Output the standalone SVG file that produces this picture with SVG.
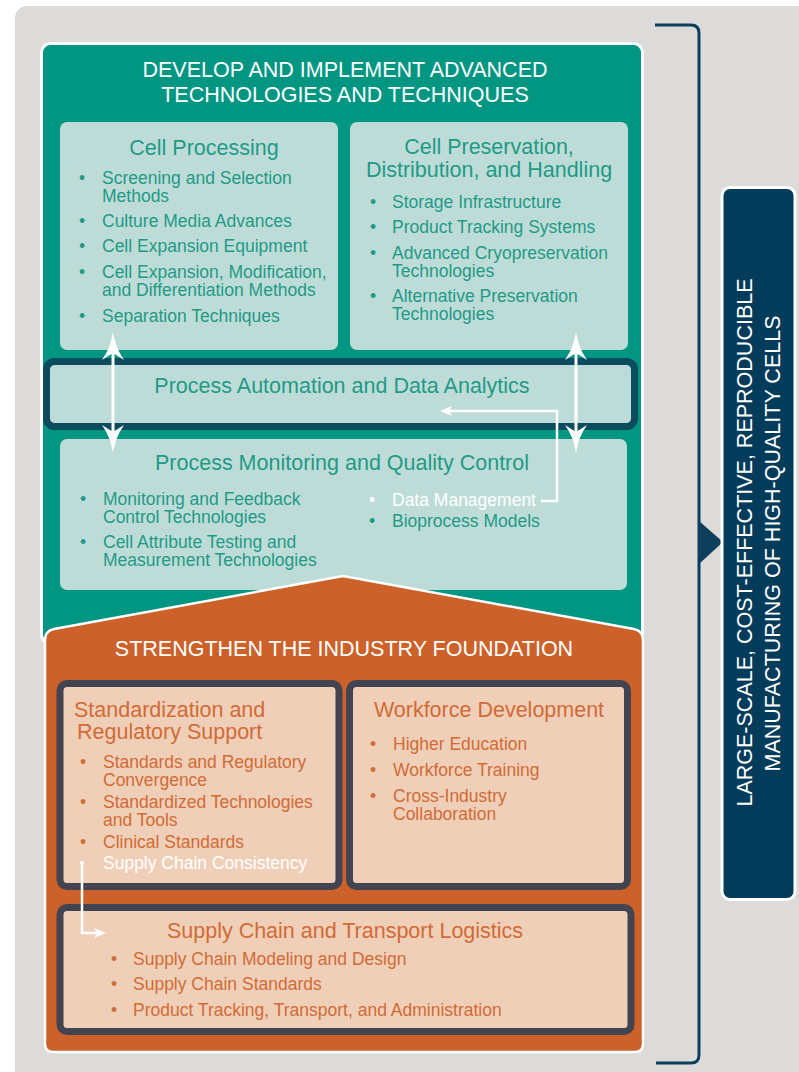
<svg xmlns="http://www.w3.org/2000/svg" width="799" height="1072" viewBox="0 0 799 1072">
<style>
text{font-family:"Liberation Sans",Arial,sans-serif}
.hd{fill:#fff;font-size:21.5px;text-anchor:middle}
.ct{fill:#1e9a87;font-size:21.5px}
.bt{fill:#1e9a87;font-size:17.5px}
.ot{fill:#d06b36;font-size:21.5px}
.ob{fill:#d06b36;font-size:17.5px}
.w{fill:#fff}
.mid{text-anchor:middle}
.lc{fill:#bedcd7}
.pc{fill:#f0cfb8;stroke:#424452;stroke-width:7}
.cn{fill:none;stroke:#fff}
</style>
<defs>
<marker id="ah" viewBox="0 0 28 22" refX="22" refY="11" markerWidth="28" markerHeight="22" markerUnits="userSpaceOnUse" orient="auto-start-reverse">
<path d="M0,0 Q13,9 28,11 Q13,13 0,22 L7,11 Z" fill="#fff"/>
</marker>
<marker id="sa" viewBox="0 0 12 10" refX="9" refY="5" markerWidth="12" markerHeight="10" markerUnits="userSpaceOnUse" orient="auto">
<path d="M0,0 L12,5 L0,10 L3,5 Z" fill="#fff"/>
</marker>
</defs>
<rect x="15" y="6" width="800" height="1080" rx="12" fill="#dcdbd9"/>

<g id="bracket">
<path d="M655,25 H691 Q699,25 699,33 V1055 Q699,1063 691,1063 H656" fill="none" stroke="#0d3f5c" stroke-width="3"/>
<polygon points="699,521 723,542 699,564" fill="#0d3f5c"/>
</g>

<g id="outcome">
<rect x="722" y="187.5" width="73" height="712" rx="8" fill="#033c5a" stroke="#fff" stroke-width="3"/>
<text class="hd" transform="translate(752,542.5) rotate(-90)">LARGE-SCALE, COST-EFFECTIVE, REPRODUCIBLE</text>
<text class="hd" transform="translate(780,543.5) rotate(-90)">MANUFACTURING OF HIGH-QUALITY CELLS</text>
</g>

<g id="develop">
<rect x="41.5" y="43.5" width="601" height="600" rx="9" fill="#009681" stroke="#fff" stroke-width="3"/>
<text class="hd" x="345" y="77">DEVELOP AND IMPLEMENT ADVANCED</text>
<text class="hd" x="345" y="102">TECHNOLOGIES AND TECHNIQUES</text>
</g>

<g id="cell-processing">
<rect class="lc" x="60" y="122" width="278" height="228" rx="7"/>
<text class="ct mid" x="204" y="155">Cell Processing</text>
<text class="bt" x="79" y="184">•</text>
<text class="bt" x="102" y="184">Screening and Selection</text>
<text class="bt" x="102" y="202">Methods</text>
<text class="bt" x="79" y="227">•</text>
<text class="bt" x="102" y="227">Culture Media Advances</text>
<text class="bt" x="79" y="252">•</text>
<text class="bt" x="102" y="252">Cell Expansion Equipment</text>
<text class="bt" x="79" y="278">•</text>
<text class="bt" x="102" y="278">Cell Expansion, Modification,</text>
<text class="bt" x="102" y="296">and Differentiation Methods</text>
<text class="bt" x="79" y="322">•</text>
<text class="bt" x="102" y="322">Separation Techniques</text>
</g>

<g id="cell-preservation">
<rect class="lc" x="350" y="122" width="278" height="228" rx="7"/>
<text class="ct mid" x="489" y="154">Cell Preservation,</text>
<text class="ct mid" x="489" y="177">Distribution, and Handling</text>
<text class="bt" x="370" y="208">•</text>
<text class="bt" x="392" y="208">Storage Infrastructure</text>
<text class="bt" x="370" y="233">•</text>
<text class="bt" x="392" y="233">Product Tracking Systems</text>
<text class="bt" x="370" y="259">•</text>
<text class="bt" x="392" y="259">Advanced Cryopreservation</text>
<text class="bt" x="392" y="277">Technologies</text>
<text class="bt" x="370" y="302">•</text>
<text class="bt" x="392" y="302">Alternative Preservation</text>
<text class="bt" x="392" y="320">Technologies</text>
</g>

<g id="automation">
<rect x="46.5" y="361.5" width="588" height="65" rx="8" fill="#bedcd7" stroke="#0d4b5f" stroke-width="7"/>
<text class="ct mid" x="342" y="393">Process Automation and Data Analytics</text>
</g>

<g id="monitoring">
<rect class="lc" x="60" y="439" width="567" height="151" rx="7"/>
<text class="ct mid" x="342" y="470">Process Monitoring and Quality Control</text>
<text class="bt" x="80" y="505">•</text>
<text class="bt" x="103" y="505">Monitoring and Feedback</text>
<text class="bt" x="103" y="523">Control Technologies</text>
<text class="bt" x="80" y="548">•</text>
<text class="bt" x="103" y="548">Cell Attribute Testing and</text>
<text class="bt" x="103" y="566">Measurement Technologies</text>
<text class="bt w" x="369" y="506">•</text>
<text class="bt w" x="392" y="506">Data Management</text>
<text class="bt" x="369" y="527">•</text>
<text class="bt" x="392" y="527">Bioprocess Models</text>
</g>

<g id="foundation">
<path d="M45,640 Q45,631 54,629 L343,576 L634,629 Q643,631 643,640 V1044 Q643,1052 635,1052 H53 Q45,1052 45,1044 Z" fill="#cc612a" stroke="#fff" stroke-width="2.5"/>
<text class="hd" x="344" y="656">STRENGTHEN THE INDUSTRY FOUNDATION</text>
</g>

<g id="standardization">
<rect class="pc" x="60" y="683.5" width="279" height="203" rx="7"/>
<text class="ot" x="74" y="717">Standardization and</text>
<text class="ot" x="77" y="739">Regulatory Support</text>
<text class="ob" x="80" y="768">•</text>
<text class="ob" x="103" y="768">Standards and Regulatory</text>
<text class="ob" x="103" y="786">Convergence</text>
<text class="ob" x="80" y="808">•</text>
<text class="ob" x="103" y="808">Standardized Technologies</text>
<text class="ob" x="103" y="826">and Tools</text>
<text class="ob" x="80" y="848">•</text>
<text class="ob" x="103" y="848">Clinical Standards</text>
<text class="ob w" x="103" y="869">Supply Chain Consistency</text>
</g>

<g id="workforce">
<rect class="pc" x="349.5" y="683.5" width="278" height="203" rx="7"/>
<text class="ot mid" x="489" y="717">Workforce Development</text>
<text class="ob" x="370" y="750">•</text>
<text class="ob" x="393" y="750">Higher Education</text>
<text class="ob" x="370" y="776">•</text>
<text class="ob" x="393" y="776">Workforce Training</text>
<text class="ob" x="370" y="802">•</text>
<text class="ob" x="393" y="802">Cross-Industry</text>
<text class="ob" x="393" y="820">Collaboration</text>
</g>

<g id="supply-chain">
<rect class="pc" x="60" y="907.5" width="571" height="124" rx="7"/>
<text class="ot mid" x="345" y="938">Supply Chain and Transport Logistics</text>
<text class="ob" x="111" y="965">•</text>
<text class="ob" x="133" y="965">Supply Chain Modeling and Design</text>
<text class="ob" x="111" y="990">•</text>
<text class="ob" x="133" y="990">Supply Chain Standards</text>
<text class="ob" x="111" y="1016">•</text>
<text class="ob" x="133" y="1016">Product Tracking, Transport, and Administration</text>
</g>

<g id="connectors">
<line class="cn" x1="113" y1="338" x2="113" y2="447" stroke-width="3" marker-start="url(#ah)" marker-end="url(#ah)"/>
<line class="cn" x1="576" y1="338" x2="576" y2="447" stroke-width="3" marker-start="url(#ah)" marker-end="url(#ah)"/>
<path class="cn" d="M541,501 H557 V411 H443" stroke-width="2.5" marker-end="url(#sa)"/>
<circle cx="82" cy="863" r="2" fill="#fff"/>
<path class="cn" d="M82,863 V933 H103" stroke-width="2.5" marker-end="url(#sa)"/>
</g>
</svg>
